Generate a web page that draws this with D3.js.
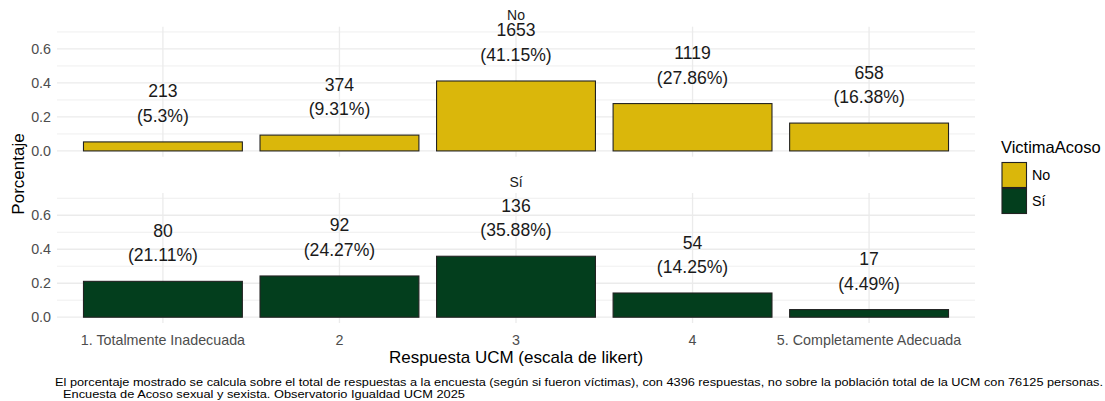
<!DOCTYPE html>
<html><head><meta charset="utf-8">
<script src="https://cdn.jsdelivr.net/npm/d3@7"></script>
<style>
body{margin:0;background:#fff;}
text{font-family:"Liberation Sans",Arial,sans-serif;}
</style></head>
<body><svg id="c" width="1105" height="401"></svg>
<script>
const categories = ["1. Totalmente Inadecuada","2","3","4","5. Completamente Adecuada"];
const groups = ["No","Sí"];
const countsNo = [213,374,1653,1119,658];
const pctNo = [5.3,9.31,41.15,27.86,16.38];
const countsSi = [80,92,136,54,17];
const pctSi = [21.11,24.27,35.88,14.25,4.49];
const yTicks = [0,0.2,0.4,0.6];
const yMinor = [0.1,0.3,0.5,0.7];
const colors = {"No":"#DAB70B","Sí":"#033E1D"};
const caption1 = "El porcentaje mostrado se calcula sobre el total de respuestas a la encuesta (según si fueron víctimas), con 4396 respuestas, no sobre la población total de la UCM con 76125 personas.";
const caption2 = "Encuesta de Acoso sexual y sexista. Observatorio Igualdad UCM 2025";

const svg = d3.select("#c");
const left = 57, right = 975;
const panels = [
  {g:"No", top:26.7, counts:countsNo, pct:pctNo},
  {g:"Sí", top:193, counts:countsSi, pct:pctSi}
];
const ph = 130;
// ggplot discrete scale with 0.6 expansion on each side
const x = d3.scalePoint().domain(categories).range([left,right]).padding(0.6);
const step = x.step();
const bw = step*0.9;

panels.forEach(p=>{
  const y = d3.scaleLinear().domain([-0.034,0.731]).range([p.top+ph,p.top]);
  const g = svg.append("g");
  g.selectAll(".mn").data(yMinor).join("line")
    .attr("x1",left).attr("x2",right).attr("y1",d=>y(d)).attr("y2",d=>y(d))
    .attr("stroke","#ebebeb").attr("stroke-width",0.8);
  g.selectAll(".mj").data(yTicks).join("line")
    .attr("x1",left).attr("x2",right).attr("y1",d=>y(d)).attr("y2",d=>y(d))
    .attr("stroke","#ebebeb").attr("stroke-width",1.3);
  g.selectAll(".vx").data(categories).join("line")
    .attr("x1",d=>x(d)).attr("x2",d=>x(d)).attr("y1",p.top).attr("y2",p.top+ph)
    .attr("stroke","#ebebeb").attr("stroke-width",1.3);
  g.selectAll(".yt").data(yTicks).join("text")
    .attr("x",left-6).attr("y",d=>y(d)).attr("dy","0.35em").attr("text-anchor","end")
    .attr("font-size",14.3).attr("fill","#4d4d4d").text(d=>d3.format(".1f")(d));
  g.selectAll(".bar").data(p.pct).join("rect")
    .attr("x",(d,i)=>x(categories[i])-bw/2).attr("width",bw)
    .attr("y",d=>y(d/100)).attr("height",d=>y(0)-y(d/100))
    .attr("fill",colors[p.g]).attr("stroke","#222").attr("stroke-width",1.1);
  const lab = g.selectAll(".lab").data(p.pct).join("text")
    .attr("text-anchor","middle").attr("font-size",17.6).attr("fill","#1a1a1a");
  lab.append("tspan").attr("x",(d,i)=>x(categories[i])).attr("y",d=>y(d/100)-44.5)
    .text((d,i)=>p.counts[i]);
  lab.append("tspan").attr("x",(d,i)=>x(categories[i])).attr("y",d=>y(d/100)-20)
    .text(d=>"("+d+"%)");
  g.append("text").attr("x",(left+right)/2).attr("y",p.top-6.5).attr("text-anchor","middle")
    .attr("font-size",14).attr("fill","#1a1a1a").text(p.g);
});

svg.selectAll(".xt").data(categories).join("text")
  .attr("x",d=>x(d)).attr("y",345).attr("text-anchor","middle")
  .attr("font-size",14.3).attr("fill","#4d4d4d").text(d=>d);
svg.append("text").attr("x",(left+right)/2).attr("y",363).attr("text-anchor","middle")
  .attr("font-size",17).attr("fill","#000").text("Respuesta UCM (escala de likert)");
svg.append("text").attr("transform","translate(24,174) rotate(-90)").attr("text-anchor","middle")
  .attr("font-size",17).attr("fill","#000").text("Porcentaje");
svg.append("text").attr("x",1001).attr("y",153).attr("font-size",16.5).attr("fill","#000").text("VictimaAcoso");
const lg = svg.selectAll(".lg").data(groups).join("g")
  .attr("transform",(d,i)=>`translate(1002,${162.5+i*26})`);
lg.append("rect").attr("width",24.5).attr("height",25).attr("fill",d=>colors[d])
  .attr("stroke","#222").attr("stroke-width",1.1);
lg.append("text").attr("x",30).attr("y",12.5).attr("dy","0.35em").attr("font-size",14.3).attr("fill","#000").text(d=>d);
svg.append("text").attr("x",55).attr("y",386).attr("font-size",11.5).attr("fill","#000")
  .attr("textLength",1048).attr("lengthAdjust","spacingAndGlyphs").text(caption1);
svg.append("text").attr("x",63).attr("y",398).attr("font-size",11.5).attr("fill","#000")
  .attr("textLength",402).attr("lengthAdjust","spacingAndGlyphs").text(caption2);
</script></body></html>
